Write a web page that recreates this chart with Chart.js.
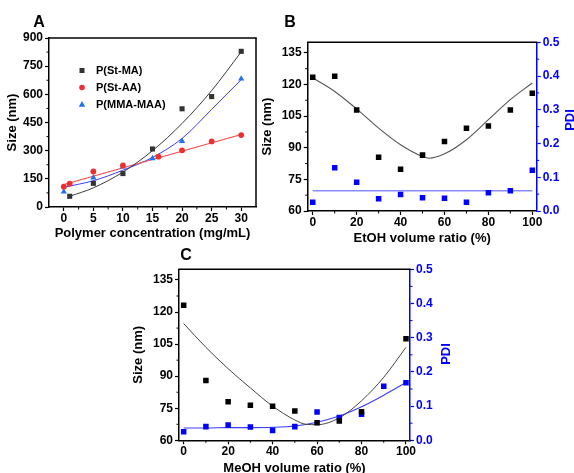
<!DOCTYPE html>
<html><head><meta charset="utf-8">
<script src="https://cdn.jsdelivr.net/npm/chart.js@4/dist/chart.umd.min.js"></script>
<style>
html,body{margin:0;padding:0;background:#fff;width:574px;height:473px;overflow:hidden;position:relative}
canvas{position:absolute}
</style></head><body>
<canvas id="cA" width="285" height="245" style="left:0;top:0"></canvas>
<canvas id="cB" width="321" height="250" style="left:255px;top:0"></canvas>
<canvas id="cC" width="330" height="235" style="left:126px;top:245px"></canvas>
<script>
// ---------- Panel A data ----------
const aSeriesNames = ['P(St-MA)', 'P(St-AA)', 'P(MMA-MAA)'];
const concStMA = [1, 5, 10, 15, 20, 25, 30];
const sizeStMA = [57, 126, 178, 309, 523, 588, 829];
const concStAA = [0, 1, 5, 10, 16, 20, 25, 30];
const sizeStAA = [108, 124, 189, 221, 268, 302, 349, 383];
const concMMA = [0, 5, 10, 15, 20, 30];
const sizeMMA = [81, 156, 214, 259, 351, 683];
// fitted curves
const fitConcStMA = [1, 5, 10, 15, 20, 25, 30];
const fitSizeStMA = [57, 102, 186, 300, 445, 620, 826];
const fitConcStAA = [0, 30];
const fitSizeStAA = [120, 386];
const fitConcMMA = [0, 5, 10, 15, 20, 25, 30];
const fitSizeMMA = [105, 140, 196, 264, 365, 520, 678];
const aXTicks = [0, 5, 10, 15, 20, 25, 30];
const aYTicks = [0, 150, 300, 450, 600, 750, 900];

// ---------- Panel B data (EtOH) ----------
const etohRatio = [0, 10, 20, 30, 40, 50, 60, 70, 80, 90, 100];
const etohSize = [123.4, 123.9, 107.9, 85.5, 79.8, 86.5, 93.0, 99.2, 100.3, 107.9, 115.8];
const etohPDI = [0.026, 0.128, 0.085, 0.036, 0.049, 0.039, 0.038, 0.026, 0.054, 0.060, 0.121];
const etohFitRatio = [0, 10, 20, 30, 40, 50, 53, 60, 70, 80, 90, 100];
const etohFitSize = [123.1, 116.7, 108.4, 99.3, 91.4, 85.8, 85.0, 87.1, 93.8, 103.3, 112.8, 120.7];
const etohFitPDIRatio = [0, 100];
const etohFitPDI = [0.060, 0.060];

// ---------- Panel C data (MeOH) ----------
const meohSizeRatio = [0, 10, 20, 30, 40, 50, 60, 70, 80, 100];
const meohSize = [123.2, 88.0, 78.0, 76.4, 75.9, 73.7, 68.2, 69.0, 73.4, 107.5];
const meohPDIRatio = [0, 10, 20, 30, 40, 50, 60, 70, 80, 90, 100];
const meohPDI = [0.025, 0.040, 0.045, 0.039, 0.029, 0.040, 0.083, 0.067, 0.076, 0.158, 0.168];
const meohFitRatio = [0, 10, 20, 30, 40, 50, 55, 60, 70, 80, 90, 100];
const meohFitSize = [114.6, 103.5, 93.5, 84.5, 76.0, 69.5, 67.5, 67.3, 70.5, 78.5, 89.5, 103.5];
const meohFitPDIRatio = [0, 10, 20, 30, 40, 50, 60, 70, 80, 90, 100];
const meohFitPDI = [0.036, 0.036, 0.037, 0.037, 0.038, 0.042, 0.053, 0.071, 0.098, 0.132, 0.169];

const ratioTicks = [0, 20, 40, 60, 80, 100];
const sizeTicks = [60, 75, 90, 105, 120, 135];
const pdiTicks = [0, 0.1, 0.2, 0.3, 0.4, 0.5];

// ---------- helpers ----------
const FONT = "'Liberation Sans', Arial, Helvetica, sans-serif";
const pts = (xs, ys) => xs.map((x, i) => ({x: x, y: ys[i]}));
const mids = arr => arr.slice(1).map((v, i) => (v + arr[i]) / 2);
const setTicks = arr => s => { s.ticks = arr.map(v => ({value: v})); };

function axis(opts) {
  const col = opts.color || '#000';
  return Object.assign({
    type: 'linear',
    min: opts.min, max: opts.max,
    position: opts.position,
    afterBuildTicks: setTicks(opts.ticks),
    afterFit: s => { if (opts.position === 'bottom') s.height = opts.size; else s.width = opts.size; },
    ticks: {
      color: col, autoSkip: false, maxRotation: 0, padding: opts.pad !== undefined ? opts.pad : 1,
      font: {family: FONT, size: 12, weight: 'bold'},
      callback: opts.fmt || (v => String(v))
    },
    grid: {display: true, drawOnChartArea: false, drawTicks: true, tickLength: 4, tickColor: col, tickWidth: 1.2},
    border: {display: true, color: col, width: 1.5},
    title: opts.title ? {
      display: true, text: opts.title, color: '#000',
      font: {family: FONT, size: 13, weight: 'bold', lineHeight: 1.2},
      padding: opts.position === 'bottom' ? {top: 0, bottom: 4} : {top: 5, bottom: 0}
    } : {display: false}
  }, opts.extra || {});
}

function framePlugin(cfg) {
  return {
    id: 'frame_' + cfg.letter,
    afterDraw(chart) {
      const ctx = chart.ctx;
      const {left, right, top, bottom} = chart.chartArea;
      ctx.save();
      ctx.strokeStyle = '#000';
      ctx.lineWidth = 1.5;
      ctx.beginPath(); ctx.moveTo(left - 0.75, top); ctx.lineTo(right + 0.75, top); ctx.stroke();
      if (cfg.rightBlack) { ctx.beginPath(); ctx.moveTo(right, top); ctx.lineTo(right, bottom); ctx.stroke(); }
      // minor ticks
      ctx.lineWidth = 1;
      cfg.minors.forEach(m => {
        const sc = chart.scales[m.id];
        ctx.strokeStyle = m.color || '#000';
        m.values.forEach(v => {
          const p = sc.getPixelForValue(v);
          ctx.beginPath();
          if (sc.position === 'bottom') { ctx.moveTo(p, bottom); ctx.lineTo(p, bottom + 2.5); }
          else if (sc.position === 'left') { ctx.moveTo(left, p); ctx.lineTo(left - 2.5, p); }
          else { ctx.moveTo(right, p); ctx.lineTo(right + 2.5, p); }
          ctx.stroke();
        });
      });
      // panel letter
      ctx.fillStyle = '#000';
      ctx.font = 'bold 16px ' + FONT;
      ctx.textAlign = 'center'; ctx.textBaseline = 'middle';
      ctx.fillText(cfg.letter, cfg.lx, cfg.ly);
      // right axis title (reads bottom to top)
      if (cfg.rightTitle) {
        ctx.save();
        ctx.translate(right + cfg.rtDx, cfg.rtY);
        ctx.rotate(-Math.PI / 2);
        ctx.fillStyle = '#0000ff';
        ctx.font = 'bold 13px ' + FONT;
        ctx.fillText(cfg.rightTitle, 0, 0);
        ctx.restore();
      }
      // legend
      if (cfg.legend) {
        ctx.font = 'bold 11px ' + FONT;
        ctx.textAlign = 'left';
        cfg.legend.forEach((it, i) => {
          const y = cfg.legY + i * cfg.legStep;
          const x = cfg.legX;
          ctx.fillStyle = it.color;
          ctx.beginPath();
          if (it.shape === 'rect') ctx.rect(x - 2.5, y - 2.5, 5, 5);
          else if (it.shape === 'circle') ctx.arc(x, y, 2.8, 0, Math.PI * 2);
          else { ctx.moveTo(x, y - 3.5); ctx.lineTo(x + 3.2, y + 2.2); ctx.lineTo(x - 3.2, y + 2.2); ctx.closePath(); }
          ctx.fill();
          ctx.fillStyle = '#000';
          ctx.fillText(it.label, cfg.legTextX, y + 0.5);
        });
      }
      ctx.restore();
    }
  };
}

const baseOpts = {responsive: false, animation: false, events: [],
  plugins: {legend: {display: false}, tooltip: {enabled: false}}};

const colBlackA = '#333333', colRed = '#ee2f2f', colBlueTri = '#1f72ec';

// ---------- Chart A ----------
new Chart(document.getElementById('cA'), {
  type: 'scatter',
  data: {datasets: [
    {data: pts(fitConcStMA, fitSizeStMA), showLine: true, pointRadius: 0, borderColor: '#3a3a3a', borderWidth: 1, cubicInterpolationMode: 'monotone', order: 3},
    {data: pts(fitConcStAA, fitSizeStAA), showLine: true, pointRadius: 0, borderColor: '#ff4a4a', borderWidth: 1.2, order: 3},
    {data: pts(fitConcMMA, fitSizeMMA), showLine: true, pointRadius: 0, borderColor: '#3c3cff', borderWidth: 1, cubicInterpolationMode: 'monotone', order: 3},
    {label: aSeriesNames[0], data: pts(concStMA, sizeStMA), pointStyle: 'rect', pointRadius: 3.6, backgroundColor: colBlackA, borderColor: colBlackA, borderWidth: 0, order: 1},
    {label: aSeriesNames[1], data: pts(concStAA, sizeStAA), pointStyle: 'circle', pointRadius: 2.9, backgroundColor: colRed, borderColor: colRed, borderWidth: 0, order: 1},
    {label: aSeriesNames[2], data: pts(concMMA, sizeMMA), pointStyle: 'triangle', pointRadius: 3.6, backgroundColor: colBlueTri, borderColor: colBlueTri, borderWidth: 0, order: 1}
  ]},
  options: Object.assign({}, baseOpts, {
    layout: {padding: {top: 38, right: 29, left: 0, bottom: 0}},
    scales: {
      x: axis({min: -2.5, max: 32.5, position: 'bottom', ticks: aXTicks, size: 38, title: 'Polymer concentration (mg/mL)', pad: 0}),
      y: axis({min: 0, max: 900, position: 'left', ticks: aYTicks, size: 49, title: 'Size (nm)', pad: 2})
    }
  }),
  plugins: [framePlugin({letter: 'A', lx: 39, ly: 22.5, rightBlack: true,
    minors: [{id: 'x', values: mids(aXTicks)}, {id: 'y', values: mids(aYTicks)}],
    legend: [
      {shape: 'rect', color: colBlackA, label: aSeriesNames[0]},
      {shape: 'circle', color: colRed, label: aSeriesNames[1]},
      {shape: 'triangle', color: colBlueTri, label: aSeriesNames[2]}
    ], legX: 82, legTextX: 96, legY: 70.5, legStep: 17})]
});

// ---------- Chart B ----------
new Chart(document.getElementById('cB'), {
  type: 'scatter',
  data: {datasets: [
    {data: pts(etohFitRatio, etohFitSize), showLine: true, pointRadius: 0, borderColor: '#555555', borderWidth: 1.1, cubicInterpolationMode: 'monotone', yAxisID: 'y', order: 3},
    {data: pts(etohFitPDIRatio, etohFitPDI), showLine: true, pointRadius: 0, borderColor: '#8a8aff', borderWidth: 1.5, yAxisID: 'y2', order: 3},
    {label: 'Size', data: pts(etohRatio, etohSize), pointStyle: 'rect', pointRadius: 3.9, backgroundColor: '#000', borderWidth: 0, yAxisID: 'y', order: 1},
    {label: 'PDI', data: pts(etohRatio, etohPDI), pointStyle: 'rect', pointRadius: 3.9, backgroundColor: '#0000ff', borderWidth: 0, yAxisID: 'y2', order: 1}
  ]},
  options: Object.assign({}, baseOpts, {
    layout: {padding: {top: 42.3, right: 0, left: 0, bottom: 0}},
    scales: {
      x: axis({min: -2.3, max: 102, position: 'bottom', ticks: ratioTicks, size: 39, title: 'EtOH volume ratio (%)', pad: 0}),
      y: axis({min: 60, max: 140, position: 'left', ticks: sizeTicks, size: 52.7, title: 'Size (nm)', pad: 2}),
      y2: axis({min: 0, max: 0.5, position: 'right', ticks: pdiTicks, size: 39.3, color: '#0000ff', pad: 2, fmt: v => v.toFixed(1)})
    }
  }),
  plugins: [framePlugin({letter: 'B', lx: 35, ly: 22.5, rightBlack: false,
    minors: [{id: 'x', values: mids(ratioTicks)}, {id: 'y', values: mids(sizeTicks)}, {id: 'y2', values: mids(pdiTicks), color: '#0000ff'}],
    rightTitle: 'PDI', rtDx: 33.5, rtY: 120})]
});

// ---------- Chart C ----------
new Chart(document.getElementById('cC'), {
  type: 'scatter',
  data: {datasets: [
    {data: pts(meohFitRatio, meohFitSize), showLine: true, pointRadius: 0, borderColor: '#444444', borderWidth: 1, cubicInterpolationMode: 'monotone', yAxisID: 'y', order: 3},
    {data: pts(meohFitPDIRatio, meohFitPDI), showLine: true, pointRadius: 0, borderColor: '#3c3cff', borderWidth: 1.1, cubicInterpolationMode: 'monotone', yAxisID: 'y2', order: 3},
    {label: 'Size', data: pts(meohSizeRatio, meohSize), pointStyle: 'rect', pointRadius: 3.9, backgroundColor: '#000', borderWidth: 0, yAxisID: 'y', order: 1},
    {label: 'PDI', data: pts(meohPDIRatio, meohPDI), pointStyle: 'rect', pointRadius: 3.9, backgroundColor: '#0000ff', borderWidth: 0, yAxisID: 'y2', order: 1}
  ]},
  options: Object.assign({}, baseOpts, {
    layout: {padding: {top: 24.3, right: 0, left: 0, bottom: 0}},
    scales: {
      x: axis({min: -2.1, max: 101.8, position: 'bottom', ticks: ratioTicks, size: 39.7, title: 'MeOH volume ratio (%)', pad: 0}),
      y: axis({min: 60, max: 140, position: 'left', ticks: sizeTicks, size: 53, title: 'Size (nm)', pad: 2}),
      y2: axis({min: 0, max: 0.5, position: 'right', ticks: pdiTicks, size: 46, color: '#0000ff', pad: 2, fmt: v => v.toFixed(1)})
    }
  }),
  plugins: [framePlugin({letter: 'C', lx: 60, ly: 10.5, rightBlack: false,
    minors: [{id: 'x', values: mids(ratioTicks)}, {id: 'y', values: mids(sizeTicks)}, {id: 'y2', values: mids(pdiTicks), color: '#0000ff'}],
    rightTitle: 'PDI', rtDx: 36.5, rtY: 109})]
});
</script>
</body></html>
